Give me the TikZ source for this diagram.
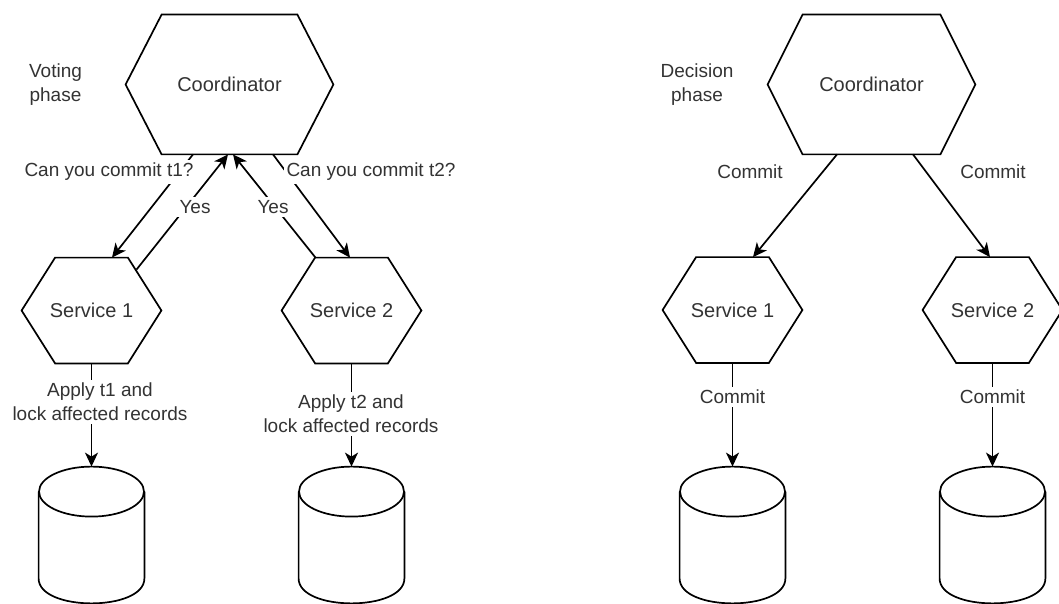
\documentclass[tikz,border=0pt]{standalone}
\usepackage{fontspec}
\setmainfont{Liberation Sans}
\usetikzlibrary{arrows.meta,calc}

\definecolor{labelgray}{RGB}{51,51,51}

\tikzset{
  outline/.style={draw=black, line width=0.85pt, line join=miter},
  link/.style={draw=black, line width=0.85pt, -{Stealth[length=7pt,width=6.5pt,inset=2pt]}},
  shapebox/.style={draw=none, inner sep=0pt, text=labelgray, font=\fontsize{10}{12}\selectfont},
  coord/.style={shapebox, minimum width=103.5pt, minimum height=69.5pt},
  service/.style={shapebox, minimum width=69.5pt, minimum height=52.5pt},
  store/.style={shapebox, minimum width=52.5pt, minimum height=68pt},
  lbl/.style={text=labelgray, font=\fontsize{9.5}{12}\selectfont, align=center, inner sep=1.5pt},
  lblbg/.style={lbl, fill=white},
}

% hexagon outline around a node: #1 node name, #2 corner inset
\newcommand\hexoutline[2]{%
  \draw[outline] ($(#1.north west)+(#2,0)$) -- ($(#1.north east)+(-#2,0)$) -- (#1.east)
    -- ($(#1.south east)+(-#2,0)$) -- ($(#1.south west)+(#2,0)$) -- (#1.west) -- cycle;}

% database cylinder around a node
\newcommand\drum[1]{%
  \draw[outline] ($(#1.north)+(0,25)$) ellipse [x radius=26.25pt, y radius=12.5pt];
  \draw[outline] ($(#1.north west)+(0,25)$) -- ($(#1.south west)+(0,-25)$)
    .. controls +(0,33.3) and +(0,33.3) .. ($(#1.south east)+(0,-25)$)
    -- ($(#1.north east)+(0,25)$);}

\begin{document}
\begin{tikzpicture}[x=0.5pt, y=-0.5pt]
\useasboundingbox (0,0) rectangle (1059,604);

% ---------- voting phase ----------
\node[coord]   (CL)  at (229.5,84.5) {Coordinator};
\node[service] (SL1) at (91.5,310.5) {Service 1};
\node[service] (SL2) at (351.5,310.5) {Service 2};
\node[store]   (DL1) at (91.5,535) {};
\node[store]   (DL2) at (351.5,535) {};
\hexoutline{CL}{36}
\hexoutline{SL1}{33.5}
\hexoutline{SL2}{33.5}
\drum{DL1}
\drum{DL2}

\draw[link] ($(CL.south)+(-36.5,0)$) -- ($(SL1.north)+(20.5,0)$);
\draw[link] ($(SL1.north)+(45,12)$) -- ($(CL.south)+(-1.5,0)$);
\draw[link] ($(SL2.north)+(-36,0)$) -- ($(CL.south)+(3.5,0)$);
\draw[link] ($(CL.south)+(43.5,0)$) -- ($(SL2.north)+(-1.5,0)$);
\draw[link] (SL1.south) -- (DL1.north);
\draw[link] (SL2.south) -- (DL2.north);

\node[lbl]   (vote) at (55.5,85)  {Voting\\phase};
\node[lblbg] (ask1) at (109,172)  {Can you commit t1?};
\node[lblbg] (ask2) at (371,172)  {Can you commit t2?};
\node[lblbg] (yes1) at (195,207)  {Yes};
\node[lblbg] (yes2) at (273,207)  {Yes};
\node[lblbg] (app1) at (100,402)  {Apply t1 and\\lock affected records};
\node[lblbg] (app2) at (351,414)  {Apply t2 and\\lock affected records};

% ---------- decision phase ----------
\node[coord]   (CR)  at (871.5,84.5) {Coordinator};
\node[service] (SR1) at (732.5,310) {Service 1};
\node[service] (SR2) at (992.5,310) {Service 2};
\node[store]   (DR1) at (732.5,535) {};
\node[store]   (DR2) at (992.5,535) {};
\hexoutline{CR}{35}
\hexoutline{SR1}{33.5}
\hexoutline{SR2}{33.5}
\drum{DR1}
\drum{DR2}

\draw[link] ($(CR.south)+(-34.5,0)$) -- ($(SR1.north)+(20.5,0)$);
\draw[link] ($(CR.south)+(41.5,0)$) -- ($(SR2.north)+(-2.5,0)$);
\draw[link] (SR1.south) -- (DR1.north);
\draw[link] (SR2.south) -- (DR2.north);

\node[lbl]   (decide) at (697,85)    {Decision\\phase};
\node[lbl]   (cmt1)   at (750,172)   {Commit};
\node[lbl]   (cmt2)   at (993,172)   {Commit};
\node[lblbg] (cmt3)   at (732.5,397) {Commit};
\node[lblbg] (cmt4)   at (992.5,397) {Commit};
\end{tikzpicture}
\end{document}
